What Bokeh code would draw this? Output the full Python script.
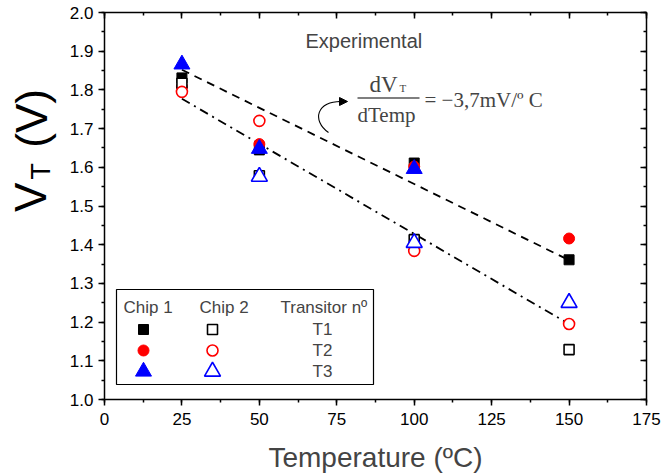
import math
from bokeh.plotting import figure
from bokeh.layouts import row
from bokeh.core.properties import value
from bokeh.models import (Range1d, LinearAxis, SingleIntervalTicker, NumeralTickFormatter,
                          Label, Arrow, NormalHead, CustomLabelingPolicy)
from bokeh.embed import file_html
from bokeh.resources import INLINE

NaN = float("nan")

# ---------------- data ----------------
temperatures = [25, 50, 100, 150]
chip1_t1 = [1.831, 1.645, 1.611, 1.361]
chip1_t2 = [1.808, 1.660, 1.602, 1.416]
chip1_t3 = [1.866, 1.648, 1.596, NaN]
chip2_t1 = [1.817, 1.578, 1.413, 1.129]
chip2_t2 = [1.795, 1.720, 1.384, 1.195]
chip2_t3 = [NaN, 1.576, 1.405, 1.250]

fit_chip1_x = [25, 150]
fit_chip1_y = [1.852, 1.360]
fit_chip2_x = [25, 150]
fit_chip2_y = [1.777, 1.195]

x_tick_step = 25
y_tick_step = 0.1
legend_rows = ["T1", "T2", "T3"]
legend_heads = ["Chip 1", "Chip 2", "Transitor nº"]

# ---------------- layout helpers (pixel -> data) ----------------
W, H = 664, 475
LW = 60                       # width of the side panel holding the y-axis title
FL, FR, FT, FB = 104, 646, 12, 399
X0, X1, Y0, Y1 = 0.0, 175.0, 1.0, 2.0
TXT_SHIFT = 6                 # baseline correction for Label text


def dx(px):
    return X0 + (px - FL) / (FR - FL) * (X1 - X0)


def dy(py):
    return Y0 + (FB - py) / (FB - FT) * (Y1 - Y0)


def ty(py):
    return dy(py - TXT_SHIFT)


SANS = "Liberation Sans"
SERIF = "Liberation Serif"

# ---------------- side panel with the y-axis title ----------------
side = figure(width=LW, height=H, output_backend="svg", toolbar_location=None,
              x_range=Range1d(0, LW), y_range=Range1d(0, H),
              x_axis_location=None, y_axis_location=None,
              min_border=0, min_border_left=0, min_border_right=0,
              min_border_top=0, min_border_bottom=0)
side.grid.visible = False
side.outline_line_color = None
side.background_fill_color = "white"
side.border_fill_color = "white"
ylab_parts = ["V", "T", "(V)"]
ylab_px = [30, 40, 31]
ylab_py = [227, 195, 130]
ylab_size = ["44px", "27px", "44px"]
for t, px, py, fs in zip(ylab_parts, ylab_px, ylab_py, ylab_size):
    side.text(x=[px], y=[H - py], text=[t], angle=math.pi / 2, text_font=value(SANS),
              text_font_size=fs, text_align="center", text_baseline="middle", text_color="black")

# ---------------- main plot ----------------
p = figure(width=W - LW, height=H, output_backend="svg", toolbar_location=None,
           x_range=Range1d(X0, X1), y_range=Range1d(Y0, Y1),
           min_border_left=FL - LW, min_border_right=W - FR, min_border_top=FT,
           min_border_bottom=H - FB)
p.grid.visible = False
p.outline_line_color = None
p.background_fill_color = "white"
p.border_fill_color = "white"

xt = SingleIntervalTicker(interval=x_tick_step, num_minor_ticks=2)
yt = SingleIntervalTicker(interval=y_tick_step, num_minor_ticks=2)

xa = p.xaxis[0]
xa.ticker = xt
xa.axis_label = "Temperature (ºC)"
xa.axis_label_text_font = SANS
xa.axis_label_text_font_size = "28px"
xa.axis_label_text_font_style = "normal"
xa.axis_label_standoff = 14
xa.major_label_text_font = SANS
xa.major_label_text_font_size = "17px"
xa.major_label_standoff = 7

ya = p.yaxis[0]
ya.ticker = yt
ya.formatter = NumeralTickFormatter(format="0.0")
ya.major_label_text_font = SANS
ya.major_label_text_font_size = "17px"
ya.major_label_standoff = 5

for ax in (xa, ya):
    ax.axis_line_width = 1.5
    ax.major_tick_line_width = 1.5
    ax.minor_tick_line_width = 1.5
    ax.major_tick_out = 6
    ax.major_tick_in = 0
    ax.minor_tick_out = 3
    ax.minor_tick_in = 0
    ax.major_label_text_color = "black"

top = LinearAxis(ticker=xt, major_label_text_font_size="0px", major_label_standoff=0,
                 major_label_policy=CustomLabelingPolicy(code="return new Set()"),
                 major_tick_in=6, major_tick_out=0, minor_tick_in=3, minor_tick_out=0,
                 axis_line_width=1.5, major_tick_line_width=1.5, minor_tick_line_width=1.5)
right = LinearAxis(ticker=yt, major_label_text_font_size="0px", major_label_standoff=0,
                   major_label_policy=CustomLabelingPolicy(code="return new Set()"),
                   major_tick_in=6, major_tick_out=0, minor_tick_in=3, minor_tick_out=0,
                   axis_line_width=1.5, major_tick_line_width=1.5, minor_tick_line_width=1.5)
p.add_layout(top, "above")
p.add_layout(right, "right")

# ---------------- fit lines ----------------
p.line(fit_chip1_x, fit_chip1_y, line_color="black", line_width=1.8, line_dash="8 6")
p.line(fit_chip2_x, fit_chip2_y, line_color="black", line_width=1.8, line_dash="9 5 2 5")

# ---------------- data points ----------------
SQ, CI, TR = 10, 11, 16
p.scatter(temperatures, chip1_t1, marker="square", size=SQ, fill_color="black", line_color="black")
p.scatter(temperatures, chip1_t2, marker="circle", size=CI, fill_color="red", line_color="red")
p.scatter(temperatures, chip1_t3, marker="triangle", size=TR, fill_color="blue", line_color="blue")
p.scatter(temperatures, chip2_t1, marker="square", size=SQ, fill_color="white", line_color="black", line_width=1.6)
p.scatter(temperatures, chip2_t2, marker="circle", size=CI, fill_color="white", line_color="red", line_width=1.6)
p.scatter(temperatures, chip2_t3, marker="triangle", size=TR, fill_color="white", line_color="blue", line_width=1.6)

# ---------------- legend (manual) ----------------
p.quad(left=dx(116), right=dx(373), top=dy(289), bottom=dy(384),
       fill_color="white", line_color="black", line_width=1.2)
head_px = [123, 199, 280]
for txt, hx in zip(legend_heads, head_px):
    p.add_layout(Label(x=dx(hx), y=ty(313), text=txt, text_font=SANS, text_font_size="17px",
                       text_baseline="alphabetic", text_align="left"))
row_py = [329, 350, 371]
base_py = [335, 356, 377]
markers = ["square", "circle", "triangle"]
colors = ["black", "red", "blue"]
msizes = [SQ, CI, TR]
for r, py, by, m, c, s in zip(legend_rows, row_py, base_py, markers, colors, msizes):
    p.scatter([dx(143)], [dy(py)], marker=m, size=s, fill_color=c, line_color=c)
    p.scatter([dx(212)], [dy(py)], marker=m, size=s, fill_color="white", line_color=c, line_width=1.6)
    p.add_layout(Label(x=dx(322), y=ty(by), text=r, text_font=SANS, text_font_size="17px",
                       text_baseline="alphabetic", text_align="center"))

# ---------------- annotations ----------------
p.add_layout(Label(x=dx(305), y=ty(46), text="Experimental", text_font=SANS,
                   text_font_size="20px", text_baseline="alphabetic"))

p.add_layout(Label(x=dx(369), y=ty(90), text="dV", text_font=SERIF, text_font_size="23px",
                   text_baseline="alphabetic"))
p.add_layout(Label(x=dx(399), y=ty(93), text="T", text_font=SERIF, text_font_size="11px",
                   text_baseline="alphabetic"))
p.segment(x0=[dx(357)], y0=[dy(97.5)], x1=[dx(419)], y1=[dy(97.5)], line_color="black", line_width=1.2)
p.add_layout(Label(x=dx(357), y=ty(120), text="dTemp", text_font=SERIF, text_font_size="21px",
                   text_baseline="alphabetic"))
p.add_layout(Label(x=dx(424), y=ty(105), text="= \u22123,7mV/º C", text_font=SERIF,
                   text_font_size="21px", text_baseline="alphabetic"))

p.bezier(x0=[dx(328)], y0=[dy(132)], x1=[dx(342)], y1=[dy(101)],
         cx0=[dx(311)], cy0=[dy(120)], cx1=[dx(316)], cy1=[dy(100)],
         line_color="black", line_width=1.1)
p.add_layout(Arrow(end=NormalHead(size=8, fill_color="black", line_color="black"),
                   x_start=dx(338), y_start=dy(101), x_end=dx(347), y_end=dy(101),
                   line_color="black", line_width=1.1))

layout = row(side, p, spacing=0)
open("out.html", "w").write(file_html(layout, INLINE))
